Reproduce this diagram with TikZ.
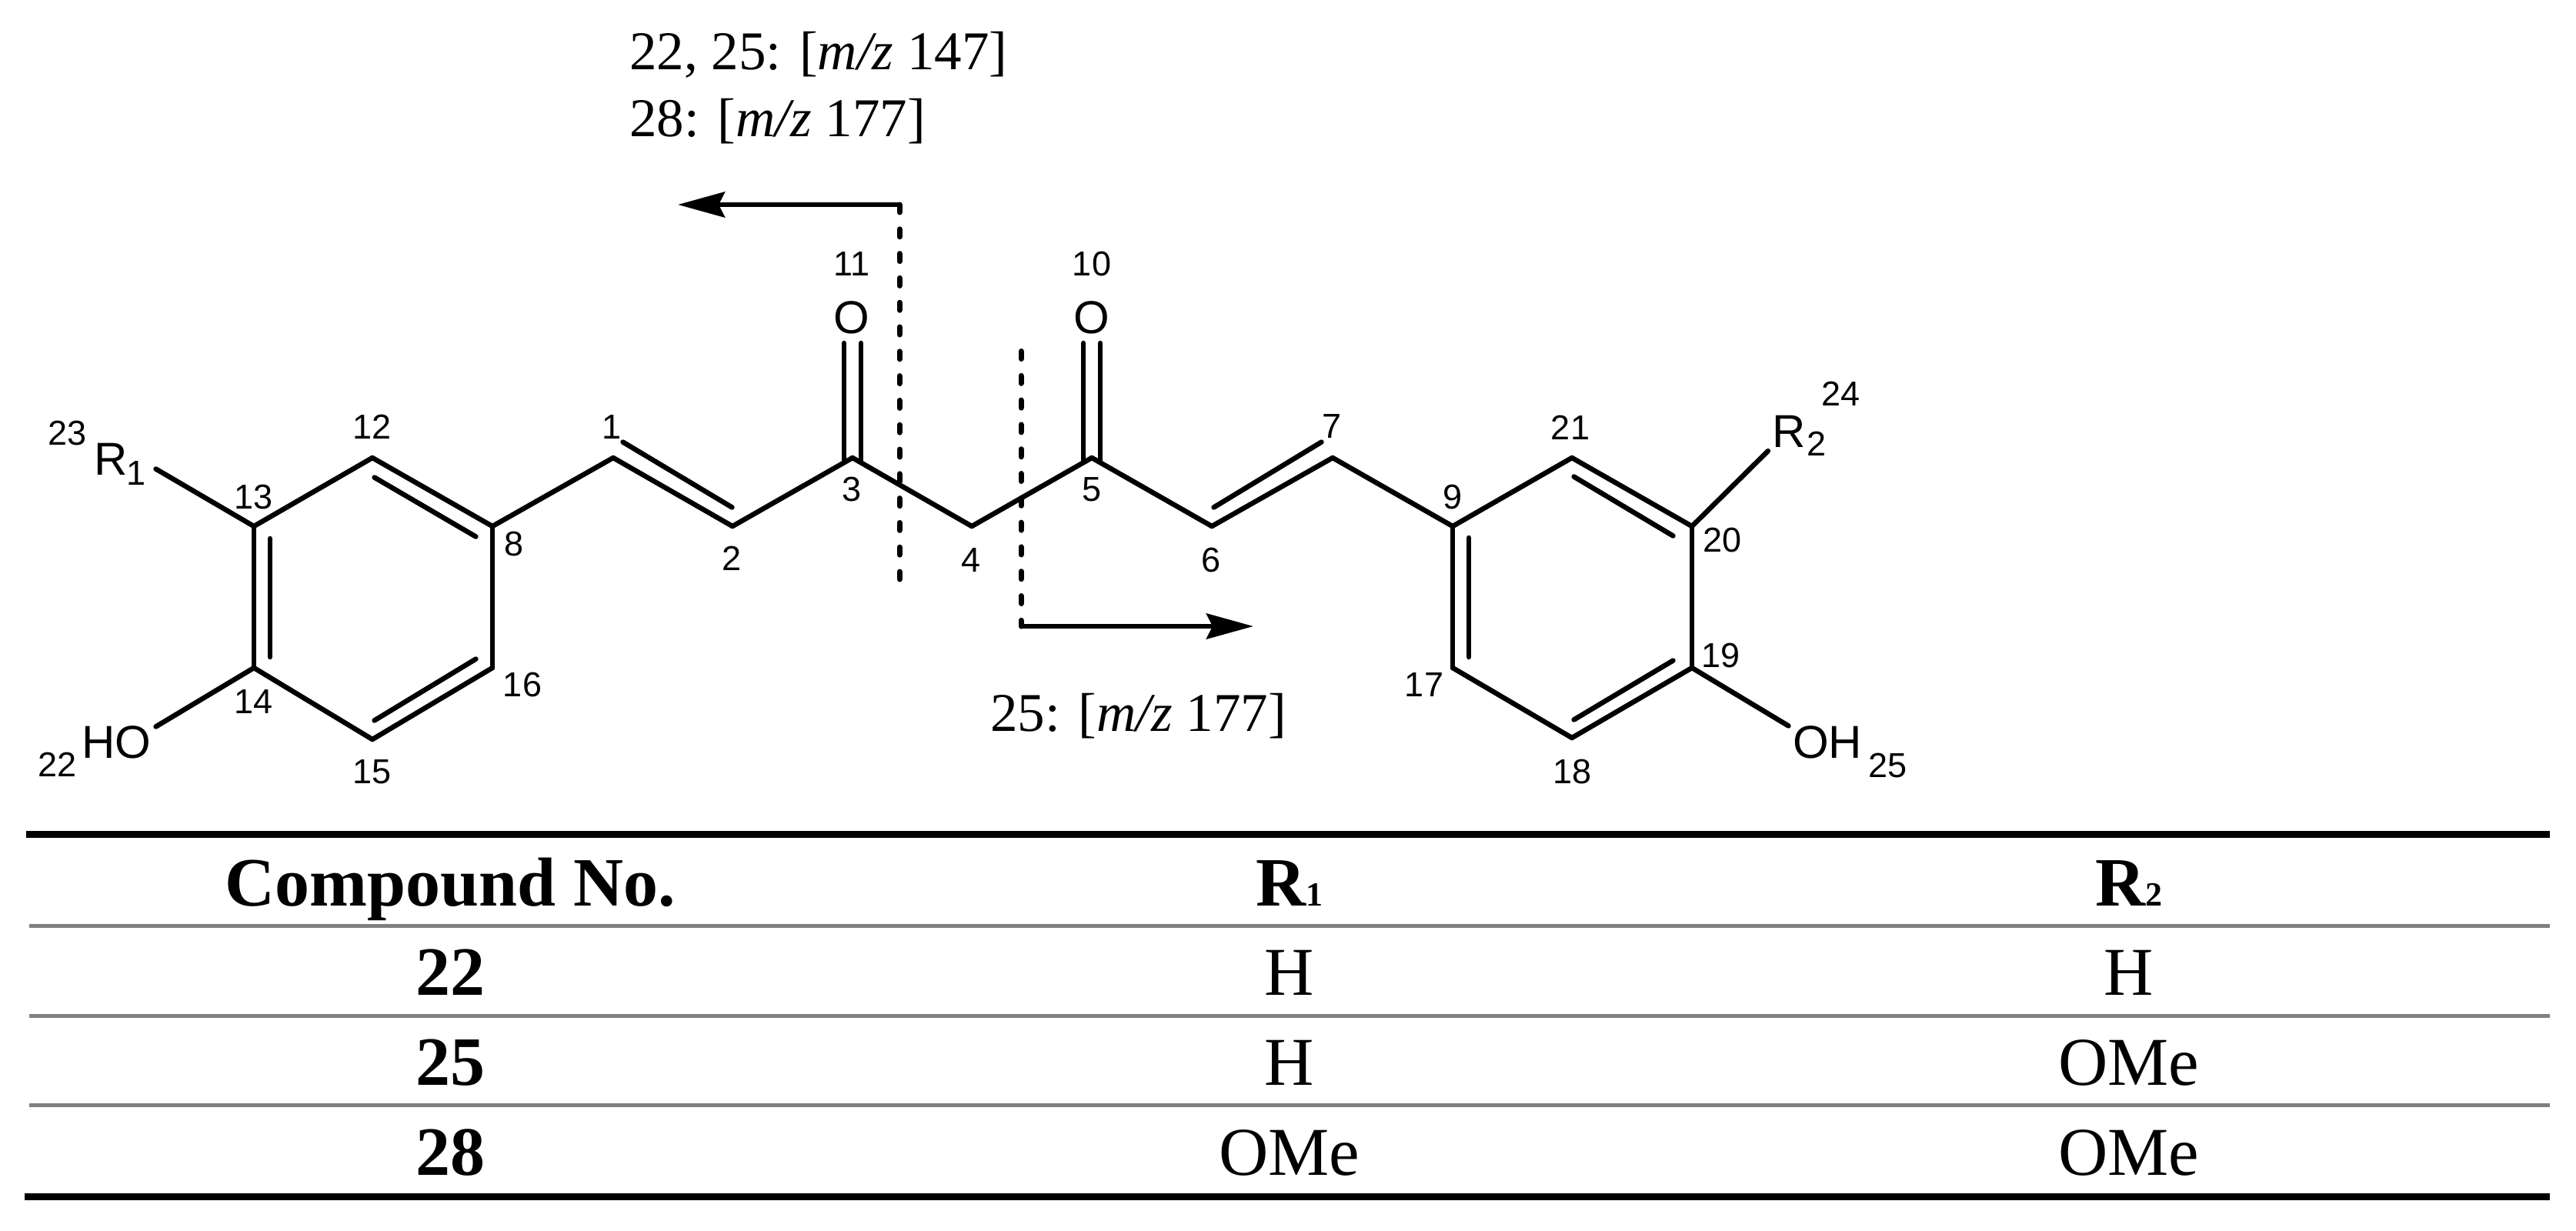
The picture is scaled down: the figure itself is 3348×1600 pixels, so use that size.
\documentclass[tikz,border=0pt]{standalone}
\usepackage{fontspec}
\setmainfont{Liberation Serif}
\newfontfamily\arialf{Liberation Sans}
\usetikzlibrary{arrows.meta}
\newcommand{\fsz}[1]{\fontsize{#1}{#1}\selectfont}
\tikzset{
  bond/.style={line width=6.5pt,line cap=round,line join=round},
  innerbond/.style={bond,shorten >=3pt,shorten <=3pt},
  freebond/.style={bond,shorten >=3pt},
  cutline/.style={line width=7pt,line cap=round,dash pattern=on 10pt off 21.8pt},
  fragarrow/.style={line width=6.5pt,-{Stealth[length=61pt,width=33pt,inset=8pt]}},
  num/.style={inner sep=0pt,font=\arialf\fsz{45}},
  atomlab/.style={inner sep=0pt,font=\arialf\fsz{60}},
  sublab/.style={inner sep=0pt,font=\arialf\fsz{45}},
  frag/.style={inner sep=0pt,anchor=base west,font=\fsz{71}},
  cellb/.style={inner sep=0pt,anchor=base,font=\fsz{90}\bfseries},
  cell/.style={inner sep=0pt,anchor=base,font=\fsz{89}},
  heavyrule/.style={line width=9pt,black},
  lightrule/.style={line width=5pt,color={rgb,255:red,128;green,128;blue,128}},
}
\begin{document}
\begin{tikzpicture}[x=1pt,y=-1pt]
\useasboundingbox (0,0) rectangle (3348,1600);
% atoms
\coordinate (a1) at (797,595);
\coordinate (a2) at (952,684);
\coordinate (a3) at (1108,595);
\coordinate (a4) at (1263,684);
\coordinate (a5) at (1419,595);
\coordinate (a6) at (1575,684);
\coordinate (a7) at (1732,595);
\coordinate (a8) at (640,684);
\coordinate (a9) at (1888,684);
\coordinate (a12) at (484,595);
\coordinate (a13) at (330,684);
\coordinate (a14) at (330,868);
\coordinate (a15) at (484,961);
\coordinate (a16) at (640,868);
\coordinate (a17) at (1888,868);
\coordinate (a18) at (2043,959);
\coordinate (a19) at (2199,868);
\coordinate (a20) at (2199,684);
\coordinate (a21) at (2043,595);
\coordinate (r1end) at (200,608);
\coordinate (hoend) at (200,946);
\coordinate (r2end) at (2300,584);
\coordinate (ohend) at (2327,945);
% main skeleton
\draw[bond] (a13)--(a12);
\draw[bond] (a12)--(a8);
\draw[bond] (a8)--(a16);
\draw[bond] (a16)--(a15);
\draw[bond] (a15)--(a14);
\draw[bond] (a14)--(a13);
\draw[bond] (a8)--(a1);
\draw[bond] (a1)--(a2);
\draw[bond] (a2)--(a3);
\draw[bond] (a3)--(a4);
\draw[bond] (a4)--(a5);
\draw[bond] (a5)--(a6);
\draw[bond] (a6)--(a7);
\draw[bond] (a7)--(a9);
\draw[bond] (a9)--(a21);
\draw[bond] (a21)--(a20);
\draw[bond] (a20)--(a19);
\draw[bond] (a19)--(a18);
\draw[bond] (a18)--(a17);
\draw[bond] (a17)--(a9);
\draw[freebond] (a13)--(r1end);
\draw[freebond] (a14)--(hoend);
\draw[freebond] (a20)--(r2end);
\draw[freebond] (a19)--(ohend);
% inner lines of double bonds
\coordinate (d1a) at (351,697); \coordinate (d1b) at (351,857);
\coordinate (d2a) at (484,619); \coordinate (d2b) at (621,699);
\coordinate (d3a) at (484,938); \coordinate (d3b) at (621,855);
\coordinate (d4a) at (807,573); \coordinate (d4b) at (954,661);
\coordinate (d5a) at (1575,661); \coordinate (d5b) at (1720,573);
\coordinate (d6a) at (1909,696); \coordinate (d6b) at (1909,857);
\coordinate (d7a) at (2043,618); \coordinate (d7b) at (2177,698);
\coordinate (d8a) at (2177,857); \coordinate (d8b) at (2043,937);
\draw[innerbond] (d1a)--(d1b);
\draw[innerbond] (d2a)--(d2b);
\draw[innerbond] (d3a)--(d3b);
\draw[innerbond] (d4a)--(d4b);
\draw[innerbond] (d5a)--(d5b);
\draw[innerbond] (d6a)--(d6b);
\draw[innerbond] (d7a)--(d7b);
\draw[innerbond] (d8a)--(d8b);
% carbonyls
\coordinate (c3la) at (1097,446); \coordinate (c3lb) at (1097,600);
\coordinate (c3ra) at (1119,446); \coordinate (c3rb) at (1119,601);
\coordinate (c5la) at (1408,446); \coordinate (c5lb) at (1408,600);
\coordinate (c5ra) at (1430,446); \coordinate (c5rb) at (1430,601);
\draw[bond] (c3la)--(c3lb);
\draw[bond] (c3ra)--(c3rb);
\draw[bond] (c5la)--(c5lb);
\draw[bond] (c5ra)--(c5rb);
% cut lines
\coordinate (cut1top) at (1169,266);
\coordinate (cut1bot) at (1169,753);
\coordinate (cut1tip) at (881,266);
\coordinate (cut2top) at (1327,456.5);
\coordinate (cut2bot) at (1327,814);
\coordinate (cut2tip) at (1629,814);
\draw[cutline] (cut1top)--(cut1bot);
\draw[cutline] (cut2top)--(cut2bot);
\draw[fragarrow] (cut1top)--(cut1tip);
\draw[fragarrow] (cut2bot)--(cut2tip);
% position numbers
\node[num] (n1) at (795,555) {1};
\node[num] (n2) at (951,726) {2};
\node[num] (n3) at (1107,636) {3};
\node[num] (n4) at (1262,728) {4};
\node[num] (n5) at (1419,636) {5};
\node[num] (n6) at (1574,728) {6};
\node[num] (n7) at (1731,554) {7};
\node[num] (n8) at (668,707) {8};
\node[num] (n9) at (1888,646) {9};
\node[num] (n10) at (1419,343) {10};
\node[num] (n11) at (1107,343) {11};
\node[num] (n12) at (484,555) {12};
\node[num] (n13) at (330,646) {13};
\node[num] (n14) at (330,912) {14};
\node[num] (n15) at (484,1003) {15};
\node[num] (n16) at (679,890) {16};
\node[num] (n17) at (1851,890) {17};
\node[num] (n18) at (2043,1003) {18};
\node[num] (n19) at (2236,852) {19};
\node[num] (n20) at (2238,702) {20};
\node[num] (n21) at (2041,556) {21};
\node[num] (n22) at (75,994) {22};
\node[num] (n23) at (88,563) {23};
\node[num] (n24) at (2392,512) {24};
\node[num] (n25) at (2453,995) {25};
% atom labels
\node[atomlab] (o11) at (1107,413) {O};
\node[atomlab] (o10) at (1419,413) {O};
\node[atomlab] (ho) at (151,965) {HO};
\node[atomlab] (oh) at (2375,965) {OH};
\node[atomlab] (r1) at (144,597) {R};
\node[sublab] (r1s) at (177,615) {1};
\node[atomlab] (r2) at (2325,561) {R};
\node[sublab] (r2s) at (2361,577) {2};
% fragment labels
\node[frag] (f1) at (818,91) {22, 25: [\textit{m/z} 147]};
\node[frag] (f2) at (818,177) {28: [\textit{m/z} 177]};
\node[frag] (f3) at (1287,950) {25: [\textit{m/z} 177]};
% table
\coordinate (t0l) at (34,1084.5); \coordinate (t0r) at (3314,1084.5);
\coordinate (t1l) at (38,1203.5); \coordinate (t1r) at (3314,1203.5);
\coordinate (t2l) at (38,1320.5); \coordinate (t2r) at (3314,1320.5);
\coordinate (t3l) at (38,1436.5); \coordinate (t3r) at (3314,1436.5);
\coordinate (t4l) at (32,1555.5); \coordinate (t4r) at (3314,1555.5);
\draw[heavyrule] (t0l)--(t0r);
\draw[lightrule] (t1l)--(t1r);
\draw[lightrule] (t2l)--(t2r);
\draw[lightrule] (t3l)--(t3r);
\draw[heavyrule] (t4l)--(t4r);
\node[cellb] (h1) at (585,1177) {Compound No.};
\node[cellb] (h2) at (1676,1177) {R{\fsz{44}1}};
\node[cellb] (h3) at (2767,1177) {R{\fsz{44}2}};
\node[cellb] (c11) at (585,1293) {22};
\node[cell] (c12) at (1676,1293) {H};
\node[cell] (c13) at (2767,1293) {H};
\node[cellb] (c21) at (585,1410) {25};
\node[cell] (c22) at (1676,1410) {H};
\node[cell] (c23) at (2767,1410) {OMe};
\node[cellb] (c31) at (585,1527) {28};
\node[cell] (c32) at (1676,1527) {OMe};
\node[cell] (c33) at (2767,1527) {OMe};
\end{tikzpicture}
\end{document}
